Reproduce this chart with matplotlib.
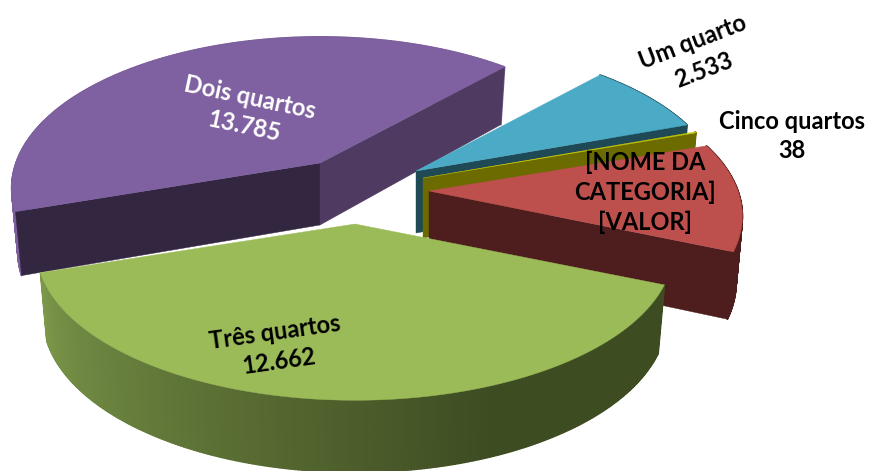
import numpy as np
import matplotlib
matplotlib.use("Agg")
import matplotlib.pyplot as plt
from matplotlib.collections import PolyCollection
from matplotlib.colors import to_rgb

# ---- data (drawing order follows the pie's clockwise order, from the purple slice)
categories = ["Dois quartos", "Um quarto", "Cinco quartos", "[NOME DA CATEGORIA]", "Três quartos"]
values = [13785, 2533, 38, 3800, 12662]
value_labels = ["13.785", "2.533", "38", "[VALOR]", "12.662"]

# ---- layout and style
START_ANGLE = 251.7   # degrees clockwise from the far side of the pie
PERSP = 0.166
RY = 147.0
apex = [(320, 163), (416, 171), (423, 178), (429, 191), (355, 224)]
radius = [304, 303, 304, 309, 314]
depth = [62, 62, 60, 65, 66]
top_col = ["#7f60a0", "#4babc6", "#c9c800", "#bd4f4c", "#9bbb59"]
face_start = ["#332640", "#1f4a55", "#6b6b00", "#4e1d1d", "#43522a"]
face_end = ["#4f3b62", "#1f4a55", "#6b6b00", "#4e1d1d", "#43522a"]
side_a = ["#7d5f9c", "#1f4a55", "#6b6b00", "#4e1d1d", "#3e4c22"]   # low angle end
side_b = ["#7d5f9c", "#1f4a55", "#6b6b00", "#4e1d1d", "#7c984a"]   # high angle end
GRAD_FLAT = 0.33      # share of the rim that stays at the low angle colour

fig = plt.figure(figsize=(8.71, 4.71), dpi=100)
ax = fig.add_axes([0, 0, 1, 1])
ax.set_xlim(0, 871)
ax.set_ylim(471, 0)
ax.axis("off")


def project(i, theta, bottom=False):
    t = np.radians(theta)
    u, v = np.sin(t), -np.cos(t)
    w = 1 - PERSP * v
    r = radius[i] * (0.98 if bottom else 1.0)
    x = apex[i][0] + r * u / w
    y = apex[i][1] + RY * v / w
    if bottom:
        y = y + depth[i] + 6 * v
    return x, y


def apex_pts(i, bottom=False):
    return apex[i][0], apex[i][1] + (depth[i] if bottom else 0)


spans = np.array(values) / np.sum(values) * 360.0
starts = START_ANGLE + np.concatenate([[0], np.cumsum(spans)[:-1]])

for i, (s, sp) in enumerate(zip(starts, spans)):
    e = s + sp
    th = np.linspace(s, e, max(int(sp * 2), 3))
    xt, yt = project(i, th)
    xb, yb = project(i, th, True)

    # outer rim
    ca, cb = np.array(to_rgb(side_a[i])), np.array(to_rgb(side_b[i]))
    quads, cols = [], []
    for k in range(len(th) - 1):
        quads.append([(xt[k], yt[k]), (xt[k + 1], yt[k + 1]), (xb[k + 1], yb[k + 1]), (xb[k], yb[k])])
        f = (k + 0.5) / (len(th) - 1)
        f = np.clip((f - GRAD_FLAT) / (1 - GRAD_FLAT), 0, 1)
        cols.append(ca + (cb - ca) * f)
    ax.add_collection(PolyCollection(quads, facecolors=cols, edgecolors=cols, linewidths=1.2))

    # cut faces that look towards the viewer
    ax_t, ay_t = apex_pts(i)
    ax_b, ay_b = apex_pts(i, True)
    if -np.sin(np.radians(s)) > 0:
        ax.fill([ax_t, xt[0], xb[0], ax_b], [ay_t, yt[0], yb[0], ay_b],
                color=face_start[i], lw=0.3)
    if np.sin(np.radians(e)) > 0:
        ax.fill([ax_t, xt[-1], xb[-1], ax_b], [ay_t, yt[-1], yb[-1], ay_b],
                color=face_end[i], lw=0.3)

    # top
    ax.fill(np.r_[ax_t, xt], np.r_[ay_t, yt], color=top_col[i], lw=0.3)

# ---- labels
FONT = dict(family="Lato", fontweight="bold", fontsize=17, ha="center", va="center",
            multialignment="center", linespacing=1.34)
label_pos = [(247, 112), (698, 56), (792, 136), (645, 192), (277, 347)]
label_rot = [-12, 21, 0, 0, 8]
label_col = ["white", "black", "black", "black", "black"]
label_txt = [f"{c}\n{v}" for c, v in zip(categories, value_labels)]
label_txt[3] = "[NOME DA\nCATEGORIA]\n" + value_labels[3]
for t, p, r, c in zip(label_txt, label_pos, label_rot, label_col):
    ax.text(p[0], p[1], t, rotation=r, rotation_mode="anchor", color=c, **FONT)

fig.savefig("out.png", dpi=100)
